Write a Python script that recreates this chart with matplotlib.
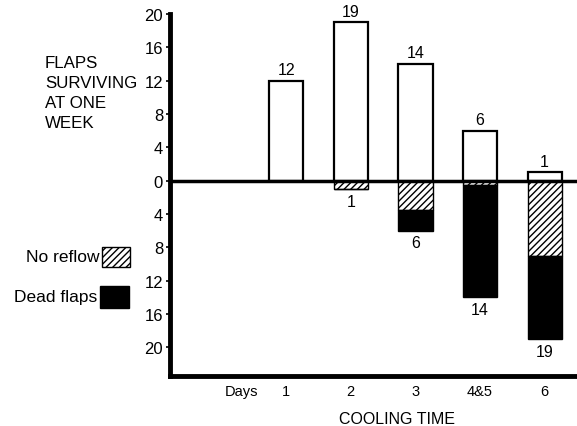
import matplotlib
matplotlib.use("Agg")
import matplotlib.pyplot as plt
from matplotlib.patches import Rectangle
import numpy as np

plt.rcParams["font.family"] = ["Liberation Sans", "DejaVu Sans"]
plt.rcParams["hatch.linewidth"] = 1.0

# data
days = ["1", "2", "3", "4&5", "6"]
surviving = [12, 19, 14, 6, 1]
no_reflow = [0, 1, 3.5, 0.5, 9]
dead = [0, 0, 2.5, 13.5, 10]
yticks = [20, 16, 12, 8, 4, 0, -4, -8, -12, -16, -20]

W, H = 577, 427


def fx(px):
    return px / W


def fy(py):
    return 1 - py / H


fig = plt.figure(figsize=(W / 100, H / 100), dpi=100)
ax = fig.add_axes([fx(170), fy(376.7), fx(577 - 170), (376.7 - 13.3) / H])

x = np.arange(1, len(days) + 1)
nr = np.array(no_reflow)
dd = np.array(dead)
lost = nr + dd
w = 0.53

ax.bar(x, surviving, w, color="white", edgecolor="black", lw=1.6, zorder=2)
ax.bar(x, -nr, w, color="white", edgecolor="black", hatch="/////", lw=1.0, zorder=2)
ax.bar(x, -dd, w, bottom=-nr, color="black", edgecolor="black", lw=1.0, zorder=2)

for xi, s in zip(x, surviving):
    ax.text(xi, s + 1.35, str(s), ha="center", va="center", fontsize=11.5)
for xi, l in zip(x, lost):
    if l > 0:
        ax.text(xi, -l - 1.45, str(int(round(l))), ha="center", va="center", fontsize=11.5)

ax.axhline(0, color="black", lw=2.5, zorder=3)

ax.set_xlim(-0.796, 5.50)
ax.set_ylim(-23.4, 20.2)
ax.spines["top"].set_visible(False)
ax.spines["right"].set_visible(False)
ax.spines["left"].set_linewidth(3.5)
ax.spines["bottom"].set_linewidth(3.5)
ax.spines["left"].set_bounds(-23.4, 20)

ax.set_yticks(yticks)
ax.set_yticklabels([str(abs(v)) for v in yticks])
ax.tick_params(axis="y", direction="out", length=3, width=1.2, pad=2, labelsize=12)
ax.set_xticks(x)
ax.set_xticklabels(days)
ax.tick_params(axis="x", length=0, pad=6, labelsize=10.5)

ax.annotate("Days", xy=(0.314, 0), xycoords=ax.get_xaxis_transform(),
            xytext=(0, -6), textcoords="offset points",
            ha="center", va="top", fontsize=10.5, annotation_clip=False)

fig.text(fx(396.7), fy(420), "COOLING TIME", ha="center", va="center", fontsize=11.5)

for i, line in enumerate(["FLAPS", "SURVIVING", "AT ONE", "WEEK"]):
    fig.text(fx(45), fy(68.5 + 20 * i), line, ha="left", va="baseline", fontsize=12.2)

fig.text(fx(99), fy(262.5), "No reflow", ha="right", va="baseline", fontsize=12.5)
fig.text(fx(97), fy(302.5), "Dead flaps", ha="right", va="baseline", fontsize=12.5)
fig.add_artist(Rectangle((fx(102), fy(268.3)), 28 / W, 20 / H, transform=fig.transFigure,
                         facecolor="white", edgecolor="black", hatch="/////", lw=1.0))
fig.add_artist(Rectangle((fx(100), fy(309)), 29 / W, 22 / H, transform=fig.transFigure,
                         facecolor="black", edgecolor="black", lw=1.0))

fig.savefig("out.png", dpi=100)
